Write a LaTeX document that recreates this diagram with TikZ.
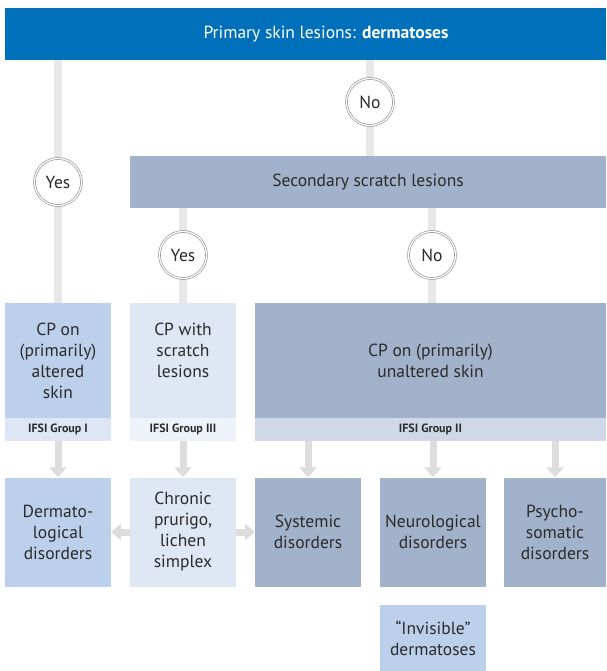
\documentclass[tikz,border=0pt]{standalone}
\usepackage{fontspec}
\setmainfont{PT Sans}
\usetikzlibrary{arrows.meta,backgrounds}

\definecolor{ifsiblue}{HTML}{0070BB}
\definecolor{darkbox}{HTML}{A2B2CB}
\definecolor{darkband}{HTML}{CFD8E6}
\definecolor{midbox}{HTML}{BCD0EC}
\definecolor{midband}{HTML}{DDE6F4}
\definecolor{lightbox}{HTML}{DFE7F5}
\definecolor{lightband}{HTML}{EEF3FA}
\definecolor{stemgray}{HTML}{E8E8E8}
\definecolor{arrowgray}{HTML}{DDDDDD}
\definecolor{ringgray}{HTML}{888888}
\definecolor{textgray}{HTML}{2B2B2B}

\tikzset{
    box/.style={rectangle, inner sep=0pt, minimum width=106pt, align=center,
        text=textgray, font=\fontsize{17.5}{21}\selectfont},
    band/.style={rectangle, inner sep=0pt, minimum width=106pt, minimum height=23pt,
        text=textgray, font=\fontsize{12}{14}\selectfont\bfseries},
    answer/.style={circle, draw=ringgray, double=white, double distance=1.3pt,
        line width=0.6pt, fill=white, minimum size=47pt, inner sep=0pt,
        text=textgray, font=\fontsize{17.5}{21}\selectfont},
    stem/.style={draw=stemgray, line width=8pt},
    flow/.style={draw=arrowgray, line width=7pt, -{Triangle[width=17pt,length=10pt]}},
}

\begin{document}
\begin{tikzpicture}[x=1pt,y=-1pt]
    \path[use as bounding box] (0,0) rectangle (606,671);

    % header and second question
    \node[rectangle, fill=ifsiblue, minimum width=601pt, minimum height=52pt] (top) at (305.5,34) {};
    \node[text=white, font=\fontsize{17.5}{21}\selectfont] (toptext) at (326,34) {Primary skin lesions: \textbf{dermatoses}};
    \node[rectangle, fill=darkbox, minimum width=476pt, minimum height=52pt,
        text=textgray, font=\fontsize{17.5}{21}\selectfont] (scratch) at (368,182) {Secondary scratch lesions};

    % yes / no answers
    \node[answer] (yes1) at (58,182) {Yes};
    \node[answer] (no1) at (370,102) {No};
    \node[answer] (yes2) at (183,255) {Yes};
    \node[answer] (no2) at (432,255) {No};

    % clinical pictures with their groups
    \node[box, fill=midbox, minimum height=115pt] (cp1) at (58,360.5) {CP on\\(primarily)\\altered\\skin};
    \node[band, fill=midband] (g1) at (58,429.5) {IFSI Group I};
    \node[box, fill=lightbox, minimum height=115pt] (cp3) at (183,360.5) {CP with\\scratch\\lesions\\~};
    \node[band, fill=lightband] (g3) at (183,429.5) {IFSI Group III};
    \node[box, fill=darkbox, minimum width=351pt, minimum height=115pt] (cp2) at (430.5,360.5) {CP on (primarily)\\unaltered skin};
    \node[band, fill=darkband, minimum width=351pt] (g2) at (430.5,429.5) {IFSI Group II};

    % disorders
    \node[box, fill=midbox, minimum height=109pt] (derm) at (58,532) {Dermato-\\logical\\disorders};
    \node[box, fill=lightbox, minimum height=109pt] (chron) at (183,532) {Chronic\\prurigo,\\lichen\\simplex};
    \node[box, fill=darkbox, minimum height=109pt] (sys) at (308,532) {Systemic\\disorders};
    \node[box, fill=darkbox, minimum height=109pt] (neuro) at (433,532) {Neurological\\disorders};
    \node[box, fill=darkbox, minimum width=102pt, minimum height=109pt] (psych) at (555,532) {Psycho-\\somatic\\disorders};
    \node[box, fill=midbox, minimum height=66pt] (invis) at (433,638) {“Invisible”\\dermatoses};

    \begin{scope}[on background layer]
        \draw[stem] (top.south -| yes1) -- (cp1.north);
        \draw[stem] (top.south -| no1) -- (scratch.north -| no1);
        \draw[stem] (scratch.south -| yes2) -- (cp3.north);
        \draw[stem] (scratch.south -| no2) -- (cp2.north -| no2);
    \end{scope}

    \foreach \g/\t in {g1/derm, g3/chron, g2/sys, g2/neuro, g2/psych} {
        \draw[flow] (\g.south -| \t) -- (\t.north);
    }
    \draw[flow] (chron.west) -- (derm.east);
    \draw[flow] (chron.east) -- (sys.west);
\end{tikzpicture}
\end{document}
